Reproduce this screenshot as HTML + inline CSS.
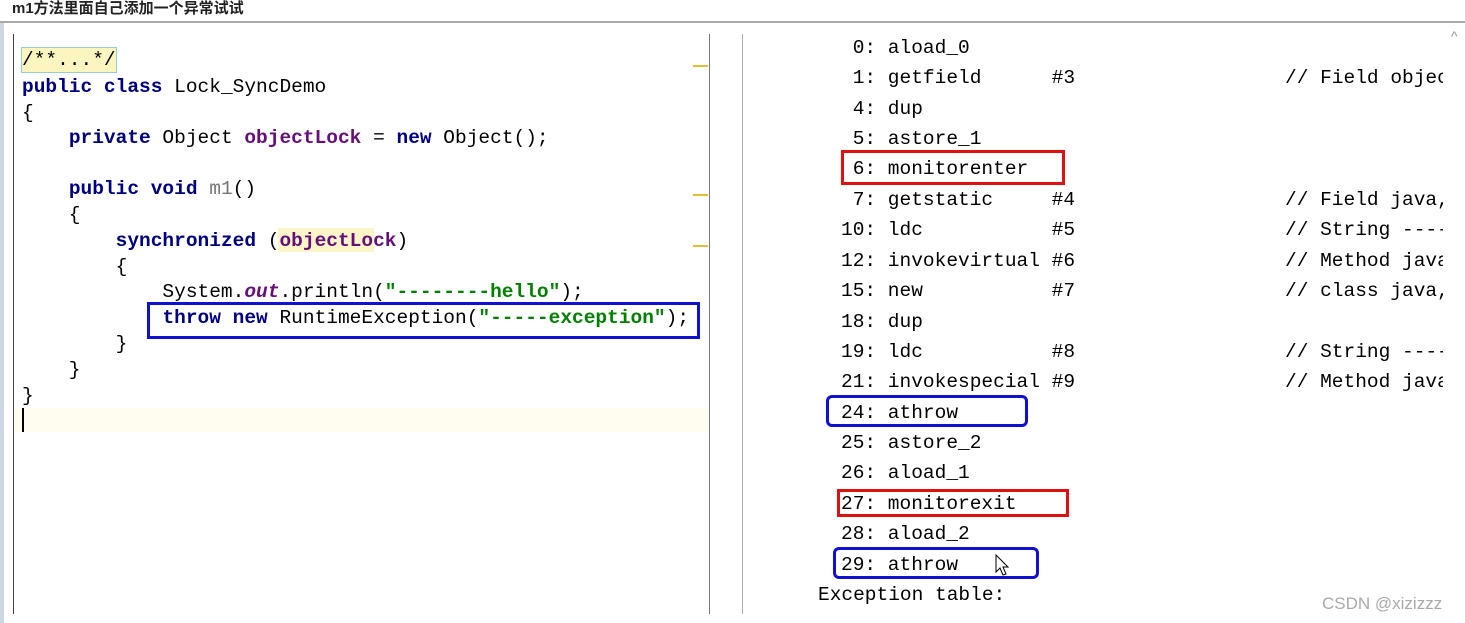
<!DOCTYPE html>
<html><head><meta charset="utf-8"><style>
body{margin:0;width:1465px;height:623px;background:#fff;position:relative;overflow:hidden;font-family:"Liberation Mono",monospace;}
.t{position:absolute;left:12px;top:0;font:bold 15px "Liberation Sans","Noto Sans CJK SC",sans-serif;color:#222;line-height:18px;}
.l{position:absolute;white-space:pre;font-size:19.5px;line-height:24px;color:#000;margin-top:1px;}
.k{color:#000080;font-weight:bold}
.f{color:#660e7a;font-weight:bold}
.s{color:#008000;font-weight:bold}
.g{color:#777}
.box{position:absolute;box-sizing:border-box;}
.clip{position:absolute;left:1285px;width:158px;overflow:hidden;}
</style></head><body>
<div class="t">m1方法里面自己添加一个异常试试</div>
<div style="position:absolute;left:0;top:21px;width:1465px;height:2px;background:#aaa"></div>
<div style="position:absolute;left:0;top:23px;width:4px;height:600px;background:#cdd6e0"></div>
<div style="position:absolute;left:13px;top:34px;width:1px;height:580px;background:#444"></div>
<div style="position:absolute;left:709px;top:34px;width:1px;height:580px;background:#777"></div>
<div style="position:absolute;left:742px;top:34px;width:1px;height:580px;background:#aaa"></div>
<div style="position:absolute;left:693px;top:65px;width:15px;height:2px;background:#e0c030"></div>
<div style="position:absolute;left:693px;top:194px;width:15px;height:2px;background:#e0c030"></div>
<div style="position:absolute;left:693px;top:245px;width:15px;height:2px;background:#e0c030"></div>
<div style="position:absolute;left:15px;top:408px;width:693px;height:24px;background:#fffdf0"></div>
<div style="position:absolute;left:22px;top:408px;width:2px;height:24px;background:#000"></div>
<div style="position:absolute;left:21px;top:47px;width:94px;height:24px;background:#fdf5c0;border:1px solid #9cc"></div>
<div style="position:absolute;left:278px;top:228px;width:96px;height:24px;background:#fdf5c8"></div>

<div class="l" style="left:22px;top:47px;">/**...*/</div>
<div class="l" style="left:22px;top:74px;"><span class="k">public class</span> Lock_SyncDemo</div>
<div class="l" style="left:22px;top:100px;">{</div>
<div class="l" style="left:22px;top:125px;">    <span class="k">private</span> Object <span class="f">objectLock</span> = <span class="k">new</span> Object();</div>
<div class="l" style="left:22px;top:176px;">    <span class="k">public void</span> <span class="g">m1</span>()</div>
<div class="l" style="left:22px;top:202px;">    {</div>
<div class="l" style="left:22px;top:228px;">        <span class="k">synchronized</span> (<span class="f">objectLock</span>)</div>
<div class="l" style="left:22px;top:254px;">        {</div>
<div class="l" style="left:22px;top:279px;">            System.<span class="f" style="font-style:italic">out</span>.println(<span class="s">"--------hello"</span>);</div>
<div class="l" style="left:22px;top:305px;">            <span class="k">throw new</span> RuntimeException(<span class="s">"-----exception"</span>);</div>
<div class="l" style="left:22px;top:331px;">        }</div>
<div class="l" style="left:22px;top:357px;">    }</div>
<div class="l" style="left:22px;top:383px;">}</div>
<div class="box" style="left:147px;top:302px;width:553px;height:37px;border:3px solid #1010d0"></div>

<div class="l" style="left:841px;top:35px;"> 0: aload_0</div>
<div class="l" style="left:841px;top:65px;"> 1: getfield      #3</div>
<div class="l clip" style="top:65px;">// Field objec</div>
<div class="l" style="left:841px;top:96px;"> 4: dup</div>
<div class="l" style="left:841px;top:126px;"> 5: astore_1</div>
<div class="l" style="left:841px;top:156px;"> 6: monitorenter</div>
<div class="l" style="left:841px;top:187px;"> 7: getstatic     #4</div>
<div class="l clip" style="top:187px;">// Field java,</div>
<div class="l" style="left:841px;top:217px;">10: ldc           #5</div>
<div class="l clip" style="top:217px;">// String ----</div>
<div class="l" style="left:841px;top:248px;">12: invokevirtual #6</div>
<div class="l clip" style="top:248px;">// Method java</div>
<div class="l" style="left:841px;top:278px;">15: new           #7</div>
<div class="l clip" style="top:278px;">// class java,</div>
<div class="l" style="left:841px;top:309px;">18: dup</div>
<div class="l" style="left:841px;top:339px;">19: ldc           #8</div>
<div class="l clip" style="top:339px;">// String ----</div>
<div class="l" style="left:841px;top:369px;">21: invokespecial #9</div>
<div class="l clip" style="top:369px;">// Method java</div>
<div class="l" style="left:841px;top:400px;">24: athrow</div>
<div class="l" style="left:841px;top:430px;">25: astore_2</div>
<div class="l" style="left:841px;top:460px;">26: aload_1</div>
<div class="l" style="left:841px;top:491px;">27: monitorexit</div>
<div class="l" style="left:841px;top:521px;">28: aload_2</div>
<div class="l" style="left:841px;top:552px;">29: athrow</div>
<div class="l" style="left:818px;top:582px;">Exception table:</div>

<div class="box" style="left:841px;top:150px;width:224px;height:35px;border:3px solid #e01010"></div>
<div class="box" style="left:826px;top:395px;width:202px;height:32px;border:3px solid #1010d0;border-radius:6px"></div>
<div class="box" style="left:837px;top:489px;width:232px;height:28px;border:3px solid #e01010"></div>
<div class="box" style="left:833px;top:547px;width:206px;height:32px;border:3px solid #1010d0;border-radius:6px"></div>
<svg style="position:absolute;left:995px;top:554px" width="16" height="24"><path d="M1 1 L1 18 L5 14 L8 21 L11 20 L8 13 L13 13 Z" fill="#fff" stroke="#000" stroke-width="1"/></svg>
<div style="position:absolute;left:1451px;top:28px;color:#999;font:14px 'Liberation Sans',sans-serif">^</div>
<div style="position:absolute;left:1322px;top:594px;color:#aaa;font:17px 'Liberation Sans',sans-serif">CSDN @xizizzz</div>
</body></html>
